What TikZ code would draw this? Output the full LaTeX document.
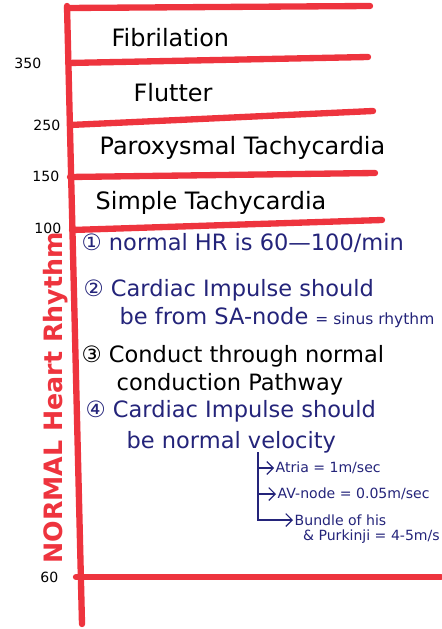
\documentclass[tikz,border=0pt]{standalone}
\usepackage{fontspec}
\setmainfont{DejaVu Sans}
\usepackage{xcolor}
\usetikzlibrary{arrows.meta, positioning}
\definecolor{markerred}{RGB}{238,52,62}
\definecolor{inkblue}{RGB}{36,36,122}
\tikzset{
    redline/.style={draw=markerred, line width=4.5pt, line cap=round},
    ticklabel/.style={anchor=east, inner sep=1pt, font=\fontsize{10}{12}\selectfont},
    rangelabel/.style={anchor=west, inner sep=1pt, font=\fontsize{17}{20}\selectfont},
    notetext/.style={anchor=west, inner sep=1pt, text=inkblue, font=\fontsize{16}{18}\selectfont},
    smallnote/.style={anchor=west, inner sep=1pt, text=inkblue, font=\fontsize{10}{12}\selectfont},
    axistitle/.style={rotate=90, text=markerred, font=\bfseries\fontsize{18}{20}\selectfont},
    fork/.style={-{Straight Barb[length=1.6mm]}, draw=inkblue, thick},
}

\begin{document}
\begin{tikzpicture}[x=0.025cm, y=-0.025cm]
    \useasboundingbox (0,0) rectangle (441,629);

    % axis and range lines
    \draw[redline] (67,6) -- (82,624);
    \draw[redline] (67,8) -- (370,6);
    \draw[redline] (68,63) -- (368,57);
    \draw[redline] (70,125) -- (373,111);
    \draw[redline] (70,177) -- (375,173);
    \draw[redline] (72,230) -- (382,220);
    \draw[redline] (76,577) -- (441,577);

    % heart rate marks
    \node[ticklabel] (t350) at (43,63) {350};
    \node[ticklabel] (t250) at (62,125) {250};
    \node[ticklabel] (t150) at (61,176) {150};
    \node[ticklabel] (t100) at (63,228) {100};
    \node[ticklabel] (t60) at (60,577) {60};

    % ranges
    \node[rangelabel] (fib) at (110,38) {Fibrilation};
    \node[rangelabel] (flut) at (132,93) {Flutter};
    \node[rangelabel] (parox) at (98,148) {Paroxysmal Tachycardia};
    \node[rangelabel] (simple) at (94,203) {Simple Tachycardia};

    \node[axistitle] (normal) at (56,398) {NORMAL Heart Rhythm};

    % criteria of normal rhythm
    \node[notetext] (crit1) at (80,243) {① normal HR is 60—100/min};
    \node[notetext] (crit2) at (82,290) {② Cardiac Impulse should};
    \node[notetext] (crit2b) at (118,318) {be from SA-node {\fontsize{11}{12}\selectfont= sinus rhythm}};
    \node[notetext, text=black] (crit3) at (80,356) {③ Conduct through normal};
    \node[notetext, text=black] (crit3b) at (115,384) {conduction Pathway};
    \node[notetext] (crit4) at (84,411) {④ Cardiac Impulse should};
    \node[notetext] (crit4b) at (125,442) {be normal velocity};

    % conduction velocities
    \coordinate (split) at (258,452);
    \node[smallnote] (atria) at (274,468) {Atria = 1m/sec};
    \node[smallnote] (avnode) at (276,494) {AV-node = 0.05m/sec};
    \node[smallnote] (bundle) at (293,520) {Bundle of his};
    \node[smallnote, below right=1pt and 6pt of bundle.south west, anchor=north west] (purk) {\& Purkinji = 4-5m/s};

    \draw[fork] (split) |- (atria.west);
    \draw[fork] (split) |- (avnode.west);
    \draw[fork] (split) |- (bundle.west);
\end{tikzpicture}
\end{document}
